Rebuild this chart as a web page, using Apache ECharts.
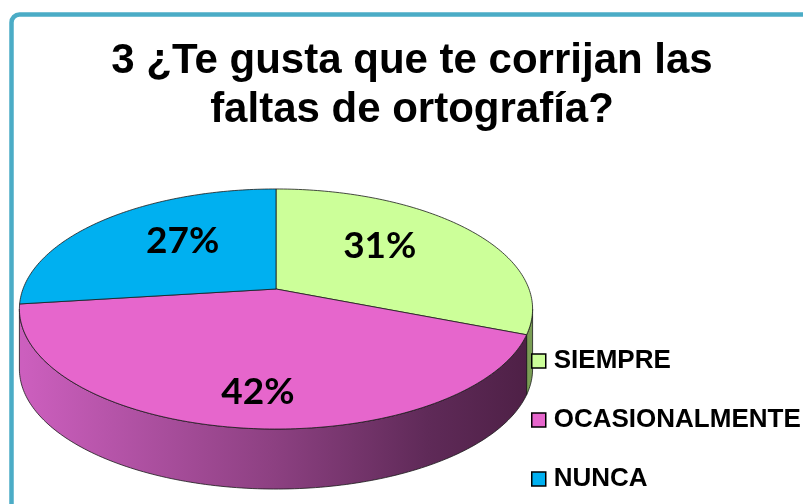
<!DOCTYPE html>
<html>
<head>
<meta charset="utf-8">
<script src="https://cdn.jsdelivr.net/npm/echarts@6/dist/echarts.min.js"></script>
<style>
html, body { margin: 0; padding: 0; background: #fff; }
#chart { width: 803px; height: 504px; }
</style>
</head>
<body>
<div id="chart"></div>
<script>
// datos de la pregunta 3
var categories = ['SIEMPRE', 'OCASIONALMENTE', 'NUNCA']
var values = [31, 42, 27]

// colores de la cara superior y del lateral (degradado)
var topColors = ['#CCFF99', '#E666CC', '#00B0F0']
var sideShades = [
  ['#C4E89A', '#A6CF7C', '#8CB465', '#7A9E55'],
  ['#CC5FBE', '#8C4081', '#5F2A58', '#4E2046'],
  ['#1AA8E0', '#0A7FB0', '#06607F', '#044C66']
]

// geometria de la tarta 3D (perspectiva simple)
var CX = 276, CY = 289, RX = 253, RY = 116.7, K = 1 / 6, DEPTH = 60
var LABEL_R = 0.52, LABEL_DY = -10, LABEL_FRONT = 0.8

var total = values.reduce(function (s, v) { return s + v }, 0)
var visFrom = Math.acos(-K)
var visTo = 2 * Math.PI - Math.acos(-K)

function proj (phi, r, dy) {
  var u = r * Math.sin(phi)
  var v = -r * Math.cos(phi)
  var d = 1 - K * v
  return [CX + RX * u / d, CY + RY * v / d + (dy || 0)]
}

function rim (a0, a1, dy) {
  var pts = []
  var n = Math.max(2, Math.ceil((a1 - a0) / (Math.PI / 180)))
  for (var i = 0; i <= n; i++) {
    pts.push(proj(a0 + (a1 - a0) * i / n, 1, dy))
  }
  return pts
}

function renderSlice (idx) {
  return function (params, api) {
    var before = 0
    for (var i = 0; i < idx; i++) before += values[i]
    var val = api.value(0)
    var a0 = before / total * 2 * Math.PI
    var a1 = (before + val) / total * 2 * Math.PI
    var children = []

    // lateral visible (solo la parte delantera)
    var s0 = Math.max(a0, visFrom)
    var s1 = Math.min(a1, visTo)
    if (s1 > s0) {
      var sh = sideShades[idx]
      var side = rim(s0, s1, 0).concat(rim(s0, s1, DEPTH).reverse())
      children.push({
        type: 'polygon',
        z2: 1,
        shape: { points: side },
        style: {
          fill: new echarts.graphic.LinearGradient(CX - RX, 0, CX + RX, 0, [
            { offset: 0, color: sh[0] },
            { offset: 0.5, color: sh[1] },
            { offset: 0.8, color: sh[2] },
            { offset: 1, color: sh[3] }
          ], true),
          stroke: '#1a1a1a',
          lineWidth: 0.8
        }
      })
    }

    // cara superior
    children.push({
      type: 'polygon',
      z2: 2,
      shape: { points: [[CX, CY]].concat(rim(a0, a1, 0)) },
      style: { fill: topColors[idx], stroke: '#1a1a1a', lineWidth: 0.8 }
    })

    // etiqueta de porcentaje
    var mid = (a0 + a1) / 2
    var lp = proj(mid, LABEL_R, LABEL_DY)
    var front = -Math.cos(mid)
    if (front > 0) lp[1] += front * DEPTH * LABEL_FRONT
    children.push({
      type: 'text',
      z2: 3,
      x: lp[0],
      y: lp[1],
      style: {
        text: Math.round(val / total * 100) + '%',
        fill: '#000',
        font: 'bold 37px Lato',
        align: 'center',
        verticalAlign: 'middle'
      }
    })
    return { type: 'group', children: children }
  }
}

var chart = echarts.init(document.getElementById('chart'))

var series = categories.map(function (name, i) {
  return {
    type: 'custom',
    name: name,
    coordinateSystem: 'none',
    silent: true,
    itemStyle: { color: topColors[i] },
    data: [[values[i]]],
    renderItem: renderSlice(i)
  }
})

var option = {
  animation: false,
  backgroundColor: '#fff',
  title: {
    text: '3 ¿Te gusta que te corrijan las\nfaltas de ortografía?',
    left: 412,
    top: 37,
    padding: 0,
    textAlign: 'center',
    textStyle: {
      fontFamily: 'Liberation Sans',
      fontWeight: 'bold',
      fontSize: 42,
      lineHeight: 49,
      color: '#000'
    }
  },
  legend: {
    orient: 'vertical',
    left: 531,
    top: 348,
    padding: 0,
    icon: 'rect',
    itemWidth: 14,
    itemHeight: 14,
    itemGap: 33,
    selectedMode: false,
    data: categories.map(function (name, i) {
      return { name: name, itemStyle: { color: topColors[i], borderColor: '#000', borderWidth: 1.5 } }
    }),
    textStyle: {
      fontFamily: 'Liberation Sans',
      fontWeight: 'bold',
      fontSize: 26,
      color: '#000',
      padding: [0, 0, 0, 3]
    }
  },
  graphic: [
    {
      type: 'rect',
      silent: true,
      z: -1,
      shape: { x: 11.5, y: 14.5, width: 900, height: 600, r: 8 },
      style: { fill: 'none', stroke: '#4BACC6', lineWidth: 4.5 }
    }
  ],
  series: series
}

chart.setOption(option)
</script>
</body>
</html>
